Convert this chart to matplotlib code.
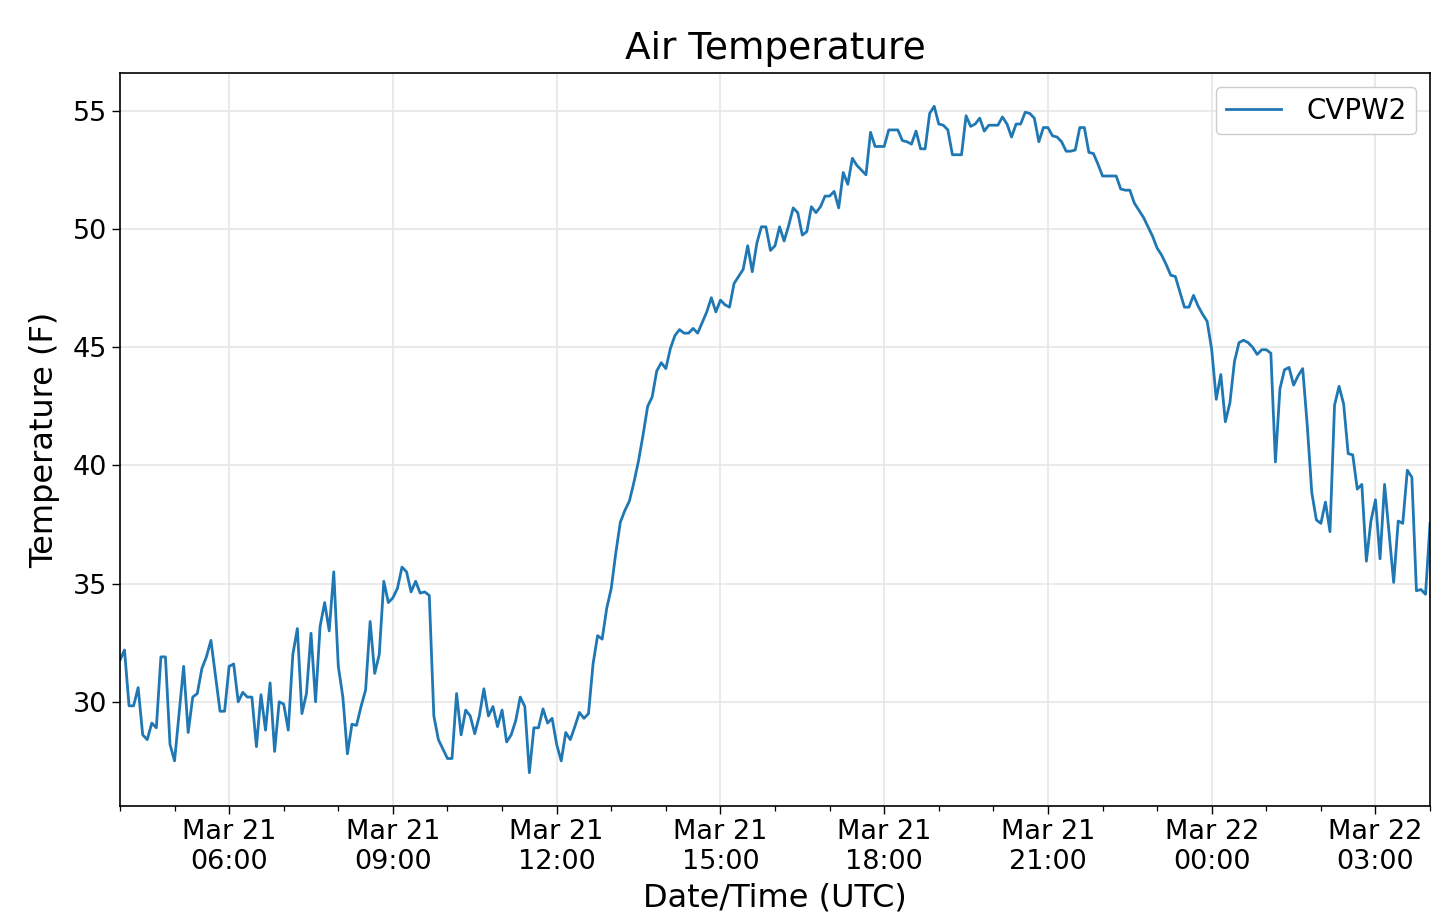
import matplotlib
matplotlib.use("Agg")
import matplotlib.pyplot as plt
import matplotlib.dates as mdates
import numpy as np
import pandas as pd

# 5-minute air temperature readings, Mar 21 04:00 UTC -> Mar 22 04:00 UTC
station = "CVPW2"
start_time = "2019-03-21 04:00"
step = "5min"
temp_f = [
    31.76, 32.19, 29.83, 29.83, 30.6, 28.6, 28.4, 29.1, 28.9, 31.9,
    31.9, 28.2, 27.5, 29.5, 31.5, 28.7, 30.2, 30.35, 31.4, 31.9,
    32.6, 31.1, 29.6, 29.6, 31.5, 31.6, 30.0, 30.4, 30.2, 30.2,
    28.1, 30.3, 28.8, 30.8, 27.9, 30.0, 29.9, 28.8, 32.0, 33.1,
    29.5, 30.35, 32.9, 30.0, 33.2, 34.2, 33.0, 35.5, 31.5, 30.2,
    27.8, 29.05, 29.0, 29.8, 30.5, 33.4, 31.2, 32.0, 35.1, 34.2,
    34.4, 34.8, 35.7, 35.5, 34.65, 35.1, 34.6, 34.65, 34.5, 29.4,
    28.4, 28.0, 27.6,
    27.6, 30.35, 28.6, 29.65, 29.4, 28.65, 29.4, 30.55, 29.4, 29.8,
    28.95, 29.65, 28.3, 28.6, 29.2, 30.2, 29.8, 27.0, 28.9, 28.9,
    29.7, 29.1, 29.3, 28.2, 27.5, 28.7, 28.4, 28.95, 29.55, 29.3,
    29.5, 31.6, 32.8, 32.65, 33.95, 34.8,
    36.3, 37.6, 38.1, 38.5, 39.3, 40.2, 41.3, 42.5, 42.9, 44.0,
    44.35, 44.1, 44.95, 45.5, 45.75, 45.6, 45.6, 45.8, 45.6, 46.05,
    46.5, 47.1, 46.5, 47.0, 46.8, 46.7, 47.7, 48.0, 48.3, 49.3,
    48.2, 49.4, 50.1, 50.1, 49.1, 49.3, 50.1, 49.5, 50.15, 50.9,
    50.7, 49.75, 49.9, 50.95, 50.7, 50.95, 51.4, 51.4, 51.6, 50.9,
    52.4, 51.9, 53.0, 52.7, 52.5, 52.3, 54.1, 53.5, 53.5, 53.5,
    54.2, 54.2, 54.2, 53.75, 53.7, 53.6, 54.15, 53.4, 53.4, 54.9,
    55.2, 54.45, 54.4, 54.2, 53.15, 53.15, 53.15, 54.8, 54.35, 54.45,
    54.7, 54.15, 54.4, 54.4, 54.4, 54.75,
    54.45, 53.9, 54.45, 54.45, 54.95, 54.9, 54.7, 53.7, 54.3, 54.3,
    53.95, 53.9, 53.7, 53.3, 53.3, 53.35, 54.3, 54.3, 53.25, 53.2,
    52.75, 52.25, 52.25, 52.25, 52.25, 51.7, 51.65, 51.65, 51.1, 50.8,
    50.5, 50.1, 49.7, 49.2, 48.9, 48.5, 48.05, 48.0, 47.35, 46.7,
    46.7, 47.2, 46.75, 46.4, 46.1, 44.9,
    42.8, 43.85, 41.85, 42.65, 44.4, 45.2, 45.3, 45.2, 45.0, 44.7,
    44.9, 44.9, 44.75, 40.15, 43.25, 44.05, 44.15, 43.4, 43.8, 44.1,
    41.7, 38.85, 37.7, 37.55, 38.45, 37.2, 42.55, 43.35, 42.6, 40.5,
    40.45, 39.0, 39.2, 35.95, 37.65, 38.55, 36.05, 39.2, 37.1, 35.05,
    37.65, 37.55, 39.8, 39.5, 34.7, 34.75, 34.55, 37.55,
]
times = pd.date_range(start_time, periods=len(temp_f), freq=step)

fig = plt.figure(figsize=(14.4, 9.18), dpi=100)
ax = fig.add_axes([0.0833, 0.122, 0.9098, 0.7985])

ax.plot(times, temp_f, color="#1f77b4", lw=2.0, label=station)
ax.set_xlim(times[0], times[-1])
ax.margins(y=0.05)

ax.xaxis.set_major_locator(mdates.HourLocator(byhour=range(0, 24, 3)))
ax.xaxis.set_minor_locator(mdates.HourLocator())
ax.xaxis.set_major_formatter(mdates.DateFormatter("%b %d\n%H:%M"))
ax.set_yticks([30, 35, 40, 45, 50, 55])

ax.grid(True, which="major", color="#e6e6e6", lw=1.2)
ax.set_axisbelow(True)
for s in ax.spines.values():
    s.set_color("black")
    s.set_linewidth(1.2)
ax.tick_params(which="major", length=6, width=1, labelsize=19.5)
ax.tick_params(which="minor", length=3.5, width=0.9)

ax.set_title("Air Temperature", fontsize=27, pad=10)
ax.set_xlabel("Date/Time (UTC)", fontsize=23, labelpad=5)
ax.set_ylabel("Temperature (F)", fontsize=23, labelpad=9)
ax.legend(loc="upper right", fontsize=20, framealpha=1,
          handletextpad=0.9, borderpad=0.35)

fig.savefig("out.png", dpi=100)
